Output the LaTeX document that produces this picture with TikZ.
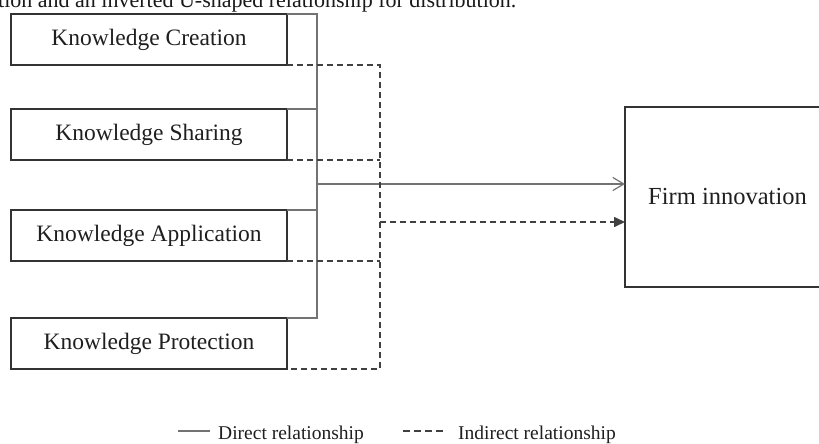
\documentclass[tikz,border=0pt]{standalone}
\usepackage{fontspec}
\setmainfont{Liberation Serif}
\usetikzlibrary{positioning,arrows.meta}

\definecolor{boxgray}{gray}{0.2}
\definecolor{linegray}{gray}{0.45}
\definecolor{dashgray}{gray}{0.25}

\begin{document}
\begin{tikzpicture}[
    x=1pt, y=-1pt,
    factor/.style = {draw=boxgray, line width=1.8pt, minimum width=276pt, minimum height=51pt, inner sep=0pt, outer sep=0pt, text=black!88, font=\fontsize{23.5}{26}\selectfont},
    outcome/.style = {factor, minimum width=205pt, minimum height=180pt, font=\fontsize{24.5}{27}\selectfont},
    direct/.style = {draw=linegray, line width=1.2pt},
    indirect/.style = {draw=dashgray, line width=1.6pt, dash pattern=on 6pt off 4pt},
    legend/.style = {anchor=base west, inner sep=0pt, text=black!88, font=\fontsize{19.5}{22}\selectfont},
    node distance=44pt
    ]
    \useasboundingbox (0,0) rectangle (819,444);

    \node[anchor=base west, inner sep=0pt, text=black!90, font=\fontsize{22}{24}\selectfont] (caption) at (-2,7.5) {tion and an inverted U-shaped relationship for distribution.};

    \node[factor] (creation) at (149,39.5) {Knowledge Creation};
    \node[factor, below=44pt of creation] (sharing) {Knowledge Sharing};
    \node[factor, below=50pt of sharing] (application) {Knowledge Application};
    \node[factor, below=57pt of application] (protection) {Knowledge Protection};
    \node[outcome] (firm) at (727.5,197) {Firm innovation};

    \coordinate (bus) at (317,184);
    \coordinate (merge) at (380,222);

    \draw[direct] (creation.north east) -| (bus) |- (protection.north east);
    \draw[direct] (sharing.north east) -- (sharing.north east -| bus);
    \draw[direct] (application.north east) -- (application.north east -| bus);
    \draw[direct, -{Straight Barb[length=11pt, width=13pt, line width=1.2pt]}] (bus) -- (bus -| firm.west);

    \draw[indirect] (creation.south east) -| (merge) |- (protection.south east);
    \draw[indirect] (sharing.south east) -- (sharing.south east -| merge);
    \draw[indirect] (application.south east) -- (application.south east -| merge);
    \draw[indirect, -{Triangle[length=11pt, width=10pt]}] (merge) -- (merge -| firm.west);

    \node[legend] (legend-direct) at (218,439) {Direct relationship};
    \node[legend] (legend-indirect) at (458,439) {Indirect relationship};
    \draw[direct] ([shift={(-8,-8)}]legend-direct.base west) -- ++(-32,0);
    \draw[indirect, line width=1.4pt, dash pattern=on 7pt off 4pt] ([shift={(-15,-8)}]legend-indirect.base west) -- ++(-40,0);
\end{tikzpicture}
\end{document}
